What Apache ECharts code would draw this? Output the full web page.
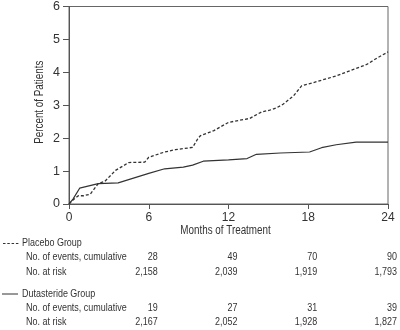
<!DOCTYPE html>
<html><head><meta charset="utf-8">
<script src="https://cdn.jsdelivr.net/npm/echarts@6/dist/echarts.min.js"></script>
<style>html,body{margin:0;padding:0;background:#fff}#c{width:400px;height:330px}</style>
</head><body><div id="c"></div>
<script>
const FONT = '"Liberation Sans",Arial,sans-serif';
const TXT = '#333';
const xTicks = [0, 6, 12, 18, 24];
const yTicks = [0, 1, 2, 3, 4, 5, 6];
const xTitle = 'Months of Treatment';
const yTitle = 'Percent of Patients';

const placeboMonths = [0, 0.3, 0.7, 1.1, 1.6, 2.2, 2.7, 3.5, 4.5, 5.7, 6.0, 7.2, 8.0, 9.3, 9.7, 9.9, 10.9, 12.0, 13.6, 14.5, 15.1, 15.6, 16.1, 16.9, 17.5, 18.4, 20.1, 21.4, 22.4, 23.2, 24.0];
const placeboPct    = [0, 0.12, 0.25, 0.25, 0.30, 0.62, 0.69, 1.02, 1.26, 1.27, 1.42, 1.58, 1.65, 1.72, 1.99, 2.08, 2.23, 2.48, 2.60, 2.80, 2.85, 2.92, 3.03, 3.29, 3.59, 3.69, 3.89, 4.09, 4.24, 4.44, 4.62];
const dutaMonths = [0, 0.3, 0.8, 0.9, 2.2, 3.7, 6.0, 7.2, 8.6, 9.3, 10.1, 12.0, 13.4, 14.1, 15.9, 18.1, 19.0, 20.1, 21.6, 24.0];
const dutaPct    = [0, 0.15, 0.48, 0.53, 0.62, 0.64, 0.93, 1.07, 1.12, 1.18, 1.30, 1.34, 1.38, 1.51, 1.55, 1.58, 1.71, 1.80, 1.88, 1.88];

const tableMonths = [6, 12, 18, 24];
const placeboLabel = 'Placebo Group';
const dutaLabel = 'Dutasteride Group';
const eventsLabel = 'No. of events, cumulative';
const riskLabel = 'No. at risk';
const placeboEvents = ['28', '49', '70', '90'];
const placeboRisk = ['2,158', '2,039', '1,919', '1,793'];
const dutaEvents = ['19', '27', '31', '39'];
const dutaRisk = ['2,167', '2,052', '1,928', '1,827'];

const chart = echarts.init(document.getElementById('c'));
const zip = (a, b) => a.map((v, i) => [v, b[i]]);
chart.setOption({
  animation: false,
  textStyle: { fontFamily: FONT },
  grid: { left: 69, right: 12, top: 5, bottom: 126, show: true, borderColor: '#666', borderWidth: 1 },
  xAxis: {
    type: 'value', min: xTicks[0], max: xTicks[xTicks.length - 1], interval: 6,
    axisLine: { lineStyle: { color: '#555', width: 1 } },
    axisTick: { show: true, length: 5, lineStyle: { color: '#555' } },
    splitLine: { show: false },
    axisLabel: { margin: 8, fontSize: 12, color: TXT, fontFamily: FONT }
  },
  yAxis: {
    type: 'value', min: yTicks[0], max: yTicks[yTicks.length - 1], interval: 1,
    axisLine: { show: true, lineStyle: { color: '#555', width: 1 } },
    axisTick: { show: true, length: 6, lineStyle: { color: '#555' } },
    splitLine: { show: false },
    axisLabel: { margin: 9, fontSize: 12.5, color: TXT, fontFamily: FONT }
  },
  series: [
    { type: 'line', data: zip(placeboMonths, placeboPct), showSymbol: false, symbol: 'none',
      lineStyle: { color: '#333', width: 1.3, type: [3, 2] } },
    { type: 'line', data: zip(dutaMonths, dutaPct), showSymbol: false, symbol: 'none',
      lineStyle: { color: '#333', width: 1.2, type: 'solid' } }
  ]
});

const px = m => chart.convertToPixel({ xAxisIndex: 0 }, m);
const midX = (px(xTicks[0]) + px(xTicks[xTicks.length - 1])) / 2;
const plotTop = chart.convertToPixel({ yAxisIndex: 0 }, yTicks[yTicks.length - 1]);
const plotBot = chart.convertToPixel({ yAxisIndex: 0 }, yTicks[0]);
const T = (text, x, y, align, size, sx, extra) => Object.assign({
  type: 'text', x: x, y: y, scaleX: sx,
  style: { text: text, align: align, verticalAlign: 'middle', font: `${size}px ${FONT}`, fill: TXT }
}, extra || {});
const g = [];
g.push(T(xTitle, midX - 3, 231, 'center', 12, 0.82));
g.push(T(yTitle, 40, (plotTop + plotBot) / 2 - 3, 'center', 12, 0.82, { rotation: Math.PI / 2 }));
// table
const TS = 11.5, SX = 0.78;
g.push({ type: 'line', shape: { x1: 3, y1: 243.5, x2: 20, y2: 243.5 }, style: { stroke: '#333', lineWidth: 1, lineDash: [2.5, 1.8] } });
g.push(T(placeboLabel, 22, 243, 'left', TS, SX));
g.push(T(eventsLabel, 26, 257, 'left', TS, SX));
g.push(T(riskLabel, 26, 271.5, 'left', TS, SX));
g.push({ type: 'line', shape: { x1: 2, y1: 294, x2: 18, y2: 294 }, style: { stroke: '#333', lineWidth: 1 } });
g.push(T(dutaLabel, 22, 293.5, 'left', TS, SX));
g.push(T(eventsLabel, 26, 307.5, 'left', TS, SX));
g.push(T(riskLabel, 26, 321.5, 'left', TS, SX));
const rows = [[placeboEvents, 257], [placeboRisk, 271.5], [dutaEvents, 307.5], [dutaRisk, 321.5]];
rows.forEach(([vals, y]) => {
  tableMonths.forEach((m, i) => {
    g.push(T(vals[i], px(m) + 9, y, 'right', TS, SX));
  });
});
chart.setOption({ graphic: g });
</script>
</body></html>
